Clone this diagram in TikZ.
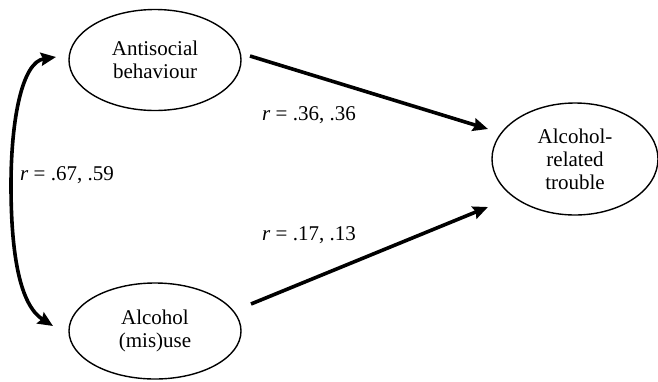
\documentclass[tikz,border=0pt]{standalone}
\usepackage{fontspec}
\setmainfont{Liberation Serif}
\usetikzlibrary{arrows.meta,shapes.geometric}
\begin{document}
\begin{tikzpicture}[x=1pt,y=-1pt,
  var/.style={draw, line width=1.4pt, ellipse, inner sep=0pt, align=center,
    font=\fontsize{21}{23}\selectfont},
  lbl/.style={font=\fontsize{21}{23}\selectfont, inner sep=0pt},
  patharrow/.style={line width=3.6pt, -{Stealth[length=15pt,width=13pt,inset=2pt]}},
  corrarrow/.style={line width=3.6pt, {Stealth[length=15pt,width=13pt,inset=2pt]}-{Stealth[length=15pt,width=13pt,inset=2pt]}}]
\fill[white] (0,0) rectangle (658,381);
\useasboundingbox (0,0) rectangle (658,381);
\node[var, minimum width=172pt, minimum height=101pt] (anti) at (155,60) {Antisocial\\behaviour};
\node[var, minimum width=172pt, minimum height=96pt] (alc) at (155,331) {Alcohol\\(mis)use};
\node[var, minimum width=166pt, minimum height=112pt] (trouble) at (575,159) {Alcohol-\\related\\trouble};
\coordinate (a1) at (250,56);
\coordinate (a2) at (488,129);
\coordinate (b1) at (251,304);
\coordinate (b2) at (488,207);
\coordinate (c1) at (56,57);
\coordinate (c2) at (53,326);
\draw[patharrow] (a1) -- (a2);
\draw[patharrow] (b1) -- (b2);
\draw[corrarrow] (c1) .. controls (22,62) and (11,120) .. (11,185) .. controls (11,255) and (20,305) .. (c2);
\node[lbl, anchor=west] (l1) at (262,115) {\textit{r} = .36, .36};
\node[lbl, anchor=west] (l2) at (262,235) {\textit{r} = .17, .13};
\node[lbl, anchor=west] (l3) at (20,175) {\textit{r} = .67, .59};
\end{tikzpicture}
\end{document}
